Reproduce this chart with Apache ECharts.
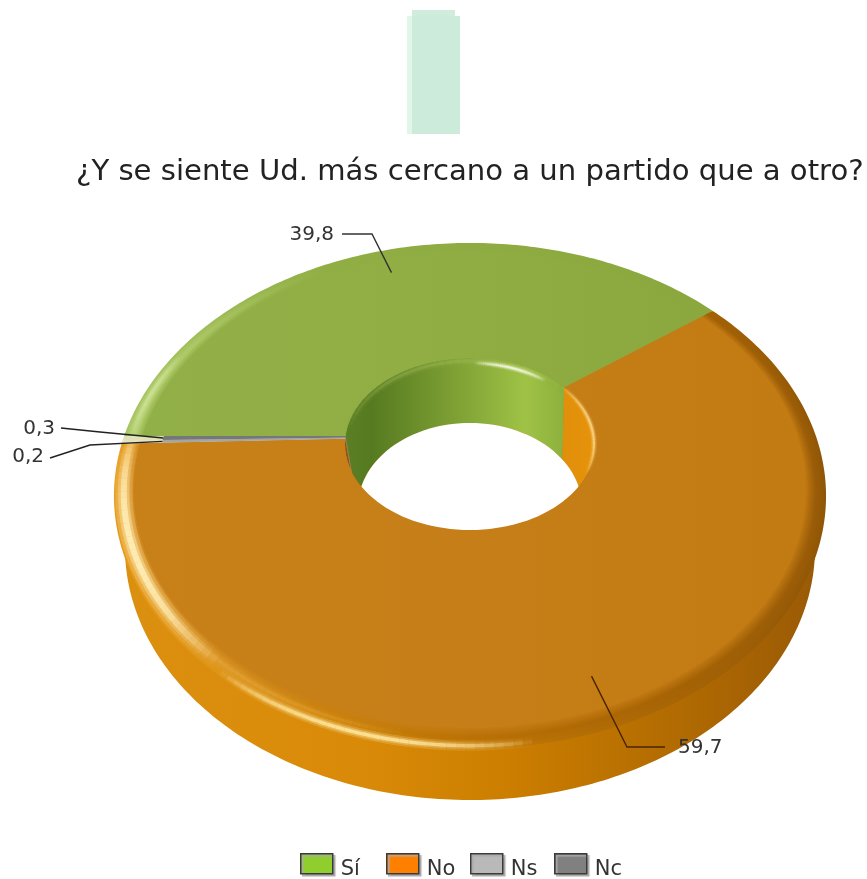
<!DOCTYPE html>
<html><head><meta charset="utf-8">
<style>html,body{margin:0;padding:0;background:#fff}#c{width:867px;height:879px}</style>
<script src="https://cdn.jsdelivr.net/npm/echarts@6/dist/echarts.min.js"></script>
</head><body><div id="c"></div>
<script>
const titleText = '¿Y se siente Ud. más cercano a un partido que a otro?';
const categories = ['Sí', 'No', 'Ns', 'Nc'];
const values = [39.8, 59.7, 0.2, 0.3];
const valueLabels = ['39,8', '59,7', '0,2', '0,3'];
const legendColors = ['#8fce2c', '#ff8000', '#b9b9b9', '#808080'];
const legendLefts = [300, 386, 470, 554];

// perspective of the disc
const CX = 470, CY = 436, A = 345.9, B = 238.8, K = 0.237;
const rad = d => d * Math.PI / 180;
function P(r, deg) {
  const u = r * Math.cos(rad(deg)), v = r * Math.sin(rad(deg)), w = 1 + K * v;
  return [CX + A * u / w, CY - B * v / w];
}
const holeRim = {cx: 470, cy: 444, rx: 125, ry: 86};
const holeLow = {cx: 470, cy: 507, rx: 112, ry: 84};
function hit(e, ox, oy, deg) {
  const p = P(1, deg), dx = p[0] - CX, dy = p[1] - CY;
  const a = dx * dx / (e.rx * e.rx) + dy * dy / (e.ry * e.ry);
  const fx = ox - e.cx, fy = oy - e.cy;
  const b = 2 * (fx * dx / (e.rx * e.rx) + fy * dy / (e.ry * e.ry));
  const c = fx * fx / (e.rx * e.rx) + fy * fy / (e.ry * e.ry) - 1;
  const t = (-b + Math.sqrt(b * b - 4 * a * c)) / (2 * a);
  return [ox + dx * t, oy + dy * t];
}
function ellipsePts(e) {
  const out = [];
  for (let i = 0; i < 120; i++) out.push([e.cx + e.rx * Math.cos(i * Math.PI / 60), e.cy + e.ry * Math.sin(i * Math.PI / 60)]);
  return out;
}
function range(a1, a2, step) {
  const n = Math.max(2, Math.ceil(Math.abs(a2 - a1) / step)), out = [];
  for (let i = 0; i <= n; i++) out.push(a1 + (a2 - a1) * i / n);
  return out;
}
function hGrad(x1, x2, stops) {
  return {type: 'linear', x: x1, y: 0, x2: x2, y2: 0, global: true,
    colorStops: stops.map(s => ({offset: s[0], color: s[1]}))};
}
function mix(c1, c2, t) {
  const a = parseInt(c1.slice(1), 16), b = parseInt(c2.slice(1), 16);
  const ch = s => Math.round(((a >> s) & 255) * (1 - t) + ((b >> s) & 255) * t);
  return 'rgb(' + ch(16) + ',' + ch(8) + ',' + ch(0) + ')';
}
const total = values.reduce((s, v) => s + v, 0);
function sliceAngles(i) {
  let before = 0;
  for (let j = 0; j < i; j++) before += values[j];
  return [180 - before / total * 360, 180 - (before + values[i]) / total * 360];
}
const sideFill = [
  '#88a63c',
  hGrad(110, 830, [[0, '#dc9010'], [0.35, '#d98a08'], [0.55, '#cc7e00'], [0.8, '#b06a02'], [1, '#985806']]),
  '#d88c10', '#d88c10'
];
const OFF = [0, 0.3, 0.5, 0.8, 1];
const bevelProfile = [
  {outer: ['#a8c664', '#90ae43', '#8eac42', '#8aa83e', '#8aa83e'],
   mid:   ['#c0da80', '#90ae43', '#8eac42', '#8aa83e', '#8aa83e'],
   inner: ['#93b148', '#90ae43', '#8eac42', '#8aa83e', '#8aa83e']},
  {outer: ['#e59a1c', '#d88c0c', '#c47a06', '#a66406', '#8f5606'],
   mid:   ['#f0b44c', '#cc8208', '#ba7004', '#a46204', '#9a5c08'],
   inner: ['#c98016', '#c87f16', '#c67d16', '#c27a14', '#c07912']},
  {outer: ['#e9e2c4', '#e9e2c4', '#e9e2c4', '#e9e2c4', '#e9e2c4'],
   mid:   ['#e9e2c4', '#e9e2c4', '#e9e2c4', '#e9e2c4', '#e9e2c4'],
   inner: ['#e9e2c4', '#e9e2c4', '#e9e2c4', '#e9e2c4', '#e9e2c4']},
  {outer: ['#dfe2b8', '#dfe2b8', '#dfe2b8', '#dfe2b8', '#dfe2b8'],
   mid:   ['#dfe2b8', '#dfe2b8', '#dfe2b8', '#dfe2b8', '#dfe2b8'],
   inner: ['#dfe2b8', '#dfe2b8', '#dfe2b8', '#dfe2b8', '#dfe2b8']}
];
const FLAT_R = 0.947;
const flatRadius = [FLAT_R, FLAT_R, 0.885, 0.885];
const faceFill = [
  hGrad(130, 710, [[0, '#92b048'], [0.5, '#90ae43'], [1, '#8aa83e']]),
  hGrad(130, 810, [[0, '#c88018'], [0.5, '#c67e18'], [1, '#c27a12']]),
  '#a6a6a0', '#75777a'
];
function ringFill(i, t) {
  const p = bevelProfile[i];
  const from = t < 0.5 ? p.outer : p.mid, to = t < 0.5 ? p.mid : p.inner, tt = t < 0.5 ? t * 2 : (t - 0.5) * 2;
  return hGrad(113, 827, OFF.map((o, k) => [o, mix(from[k], to[k], tt)]));
}
const wallFill = [
  hGrad(345, 565, [[0, '#5b7f24'], [0.12, '#567a20'], [0.5, '#7ea034'], [0.82, '#9fc246'], [1, '#8cb03c']]),
  hGrad(345, 595, [[0, '#8f5510'], [0.08, '#a8660f'], [0.25, '#c87f10'], [1, '#e6930a']]),
  '#999', '#777'
];
function wedge(r, a1, a2) {
  const pts = [[CX, CY]];
  range(a1, a2, 1).forEach(d => pts.push(P(r, d)));
  return pts;
}
function glow(out, pathFn, a1, a2, color, width, maxOp, z) {
  const N = 36;
  for (let i = 0; i < N; i++) {
    const t = (i + 0.5) / N, op = maxOp * Math.pow(Math.sin(Math.PI * t), 0.8);
    const d1 = a1 + (a2 - a1) * i / N, d2 = a1 + (a2 - a1) * (i + 1) / N;
    const pts = range(d1, d2, 0.5).map(pathFn);
    [[3, 0.16], [1.9, 0.28], [1, 0.6]].forEach((l, k) => out.push({type: 'polyline', z2: z + k, silent: true,
      shape: {points: pts}, style: {fill: 'none', stroke: color, lineWidth: width * l[0], opacity: op * l[1]}}));
  }
}
const rimClip = () => ({type: 'polygon', shape: {points: ellipsePts(holeRim)}});
const onEllipse = e => d => [e.cx + e.rx * Math.cos(rad(d)), e.cy - e.ry * Math.sin(rad(d))];
const leaderSpec = [
  {r: 0.86, bend: [372, 234], end: [342, 234], text: [334, 235], align: 'right', stroke: '#333'},
  {r: 0.86, bend: [627, 747], end: [665, 747], text: [678, 748], align: 'left', stroke: '#4a2400'},
  {r: 0.885, bend: [90, 445], end: [50, 458], text: [44, 457], align: 'right', stroke: '#222'},
  {r: 0.885, bend: [100, 432], end: [61, 428], text: [55, 429], align: 'right', stroke: '#222'}
];
function render(i) {
  return function () {
    const [a1, a2] = sliceAngles(i), ch = [];
    // outer side
    const sidePts = [[470, 548]];
    range(a1, a2, 1).forEach(d => sidePts.push([470 + 345 * Math.cos(rad(d)), 548 - 252 * Math.sin(rad(d))]));
    ch.push({type: 'polygon', z2: 10, silent: true, shape: {points: sidePts}, style: {fill: sideFill[i]}});
    // bevel rings and flat face
    const RINGS = 12;
    for (let k = 0; k < RINGS; k++) {
      const t = k / (RINGS - 1), r = 1 - t * (1 - FLAT_R);
      ch.push({type: 'polygon', z2: 20 + k, silent: true, shape: {points: wedge(r, a1, a2)}, style: {fill: ringFill(i, t)}});
    }
    ch.push({type: 'polygon', z2: 35, silent: true, shape: {points: wedge(flatRadius[i], a1, a2)}, style: {fill: faceFill[i]}});
    // inner wall of the hole
    const wall = [];
    range(a1, a2, 1).forEach(d => wall.push(hit(holeRim, CX, CY, d)));
    range(a2, a1, 1).forEach(d => wall.push(hit(holeLow, holeLow.cx, holeLow.cy, d)));
    ch.push({type: 'polygon', z2: 50, silent: true, clipPath: rimClip(), shape: {points: wall}, style: {fill: wallFill[i]}});
    if (i === 0) {
      ch.push({type: 'polygon', z2: 60, silent: true, clipPath: rimClip(), shape: {points: ellipsePts(holeLow)}, style: {fill: '#fff'}});
      glow(ch, d => P(0.98, d), 180, 158, '#d6e8a0', 3, 0.9, 40);
      glow(ch, onEllipse({cx: 470, cy: 445, rx: 123, ry: 84}), 170, 40, '#a4bf5c', 3, 0.5, 64);
      glow(ch, onEllipse({cx: 470, cy: 446, rx: 122, ry: 83}), 88, 52, '#f6fae2', 2, 1.4, 68);
    }
    if (i === 1) {
      glow(ch, d => P(0.974, d), 180, 232, '#fff0bc', 6, 1.4, 40);
      glow(ch, d => P(0.992, d), 234, 278, '#ffe7a0', 3.4, 1.4, 40);
      glow(ch, d => P(0.972, d), 222, 262, '#e8a840', 3, 0.5, 44);
      glow(ch, onEllipse({cx: 470, cy: 444, rx: 124, ry: 85}), 42, -20, '#fcd98e', 2, 1.2, 68);
    }
    // leader and value label
    const s = leaderSpec[i], anchor = P(s.r, (a1 + a2) / 2);
    ch.push({type: 'polyline', z2: 80, silent: true, shape: {points: [anchor, s.bend, s.end]},
      style: {fill: 'none', stroke: s.stroke, lineWidth: 1.4}});
    ch.push({type: 'text', z2: 90, silent: true, style: {text: valueLabels[i], x: s.text[0], y: s.text[1],
      align: s.align, verticalAlign: 'middle', fill: '#333', fontFamily: 'DejaVu Sans', fontSize: 20}});
    return {type: 'group', children: ch};
  };
}
const chart = echarts.init(document.getElementById('c'), null, {renderer: 'canvas'});
chart.setOption({
  animation: false,
  backgroundColor: '#fff',
  title: {text: titleText, left: 71, top: 153,
    textStyle: {fontFamily: 'DejaVu Sans', fontSize: 29.1, fontWeight: 'normal', color: '#222'}},
  legend: categories.map((c, i) => ({
    left: legendLefts[i], top: 853, padding: 0, itemWidth: 32, itemHeight: 20, itemGap: 10, selectedMode: false,
    formatter: n => '{t|' + n + '}',
    textStyle: {rich: {t: {fontFamily: 'DejaVu Sans', fontSize: 21, color: '#333', padding: [12, 0, 0, 3], height: 24}}},
    data: [{name: c, icon: 'rect', itemStyle: {
      color: legendColors[i], borderColor: '#3a3a3a', borderWidth: 1.5,
      shadowColor: '#aaa', shadowOffsetX: 2, shadowOffsetY: 2, shadowBlur: 1}}]
  })),
  graphic: [
    {type: 'rect', silent: true, shape: {x: 412, y: 10, width: 43, height: 6}, style: {fill: '#cfecdc'}},
    {type: 'rect', silent: true, shape: {x: 407, y: 16, width: 53, height: 118}, style: {fill: '#cdebdb'}},
    {type: 'rect', silent: true, shape: {x: 407, y: 16, width: 5, height: 118}, style: {fill: '#dff6e9'}}
  ],
  series: categories.map((c, i) => ({
    type: 'custom', name: c, coordinateSystem: 'none', silent: true,
    data: [[values[i]]], renderItem: render(i), clip: false
  }))
});
</script></body></html>
